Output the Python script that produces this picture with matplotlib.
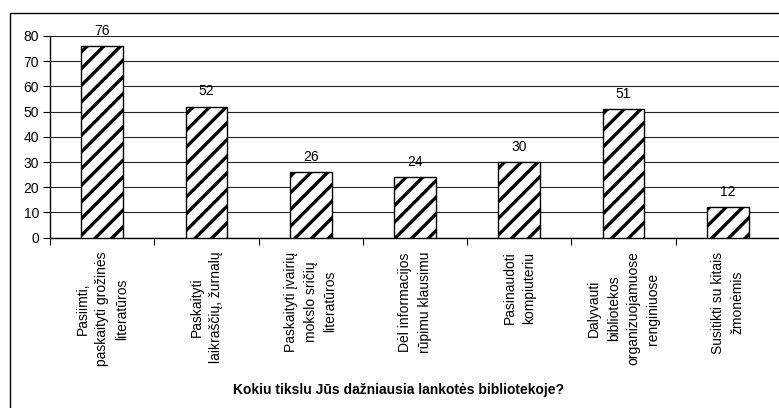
import matplotlib.pyplot as plt
import matplotlib.patches as mpatches
import numpy as np

plt.rcParams['font.family'] = ['Liberation Sans', 'DejaVu Sans']
plt.rcParams['hatch.linewidth'] = 2.4

# --- data ---
categories = [
    "Pasiimti,\npaskaityti grožinės\nliteratūros",
    "Paskaityti\nlaikraščių, žurnalų",
    "Paskaityti įvairių\nmokslo sričių\nliteratūros",
    "Dėl informacijos\nrūpimu klausimu",
    "Pasinaudoti\nkompiuteriu",
    "Dalyvauti\nbibliotekos\norganizuojamuose\nrenginiuose",
    "Susitikti su kitais\nžmonėmis",
]
values = [76, 52, 26, 24, 30, 51, 12]
yticks = [0, 10, 20, 30, 40, 50, 60, 70, 80]
xtitle = "Kokiu tikslu Jūs dažniausia lankotės bibliotekoje?"

W, H = 779, 408
fig = plt.figure(figsize=(W / 100, H / 100), dpi=100)

# outer chart border (cropped on right and bottom)
border = mpatches.Rectangle((9.5 / W, -0.05), 1.2, 1 - 12.5 / H + 0.05,
                            transform=fig.transFigure, fill=False,
                            edgecolor='black', linewidth=1.0)
fig.patches.append(border)

ax = fig.add_axes([50 / W, 1 - 237.7 / H, 730 / W, 201.7 / H])

x = np.arange(len(values))
bars = ax.bar(x, values, width=0.4, color='white', edgecolor='black',
              hatch='//', linewidth=1.0, zorder=3)

for xi, v in zip(x, values):
    ax.annotate(str(v), (xi, v), xytext=(0, 6), textcoords='offset points',
                ha='center', va='bottom', fontsize=10)

ax.set_xlim(-0.5, len(values) - 0.5)
ax.set_ylim(0, 80)
ax.set_yticks(yticks)
ax.yaxis.grid(True, color='#222222', linewidth=0.8, zorder=0)
ax.set_axisbelow(True)

# ticks between categories, labels at centres
ax.set_xticks(np.arange(len(values) + 1) - 0.5)
ax.set_xticklabels([])
ax.set_xticks(x, minor=True)
ax.set_xticklabels(categories, minor=True, rotation=90, ha='center',
                   va='top', multialignment='center', linespacing=1.5,
                   fontsize=10)
ax.tick_params(axis='x', which='minor', length=0, pad=10)
ax.tick_params(axis='x', which='major', length=5, direction='out', color='black')
ax.tick_params(axis='y', length=5, direction='out', labelsize=10, pad=3)

for s in ['top', 'right']:
    ax.spines[s].set_visible(False)
ax.spines['left'].set_linewidth(1.0)
ax.spines['bottom'].set_linewidth(1.0)

fig.text(398 / W, 1 - 390 / H, xtitle, ha='center', va='center',
         fontsize=10, fontweight='bold')

fig.savefig('out.png', dpi=100)
